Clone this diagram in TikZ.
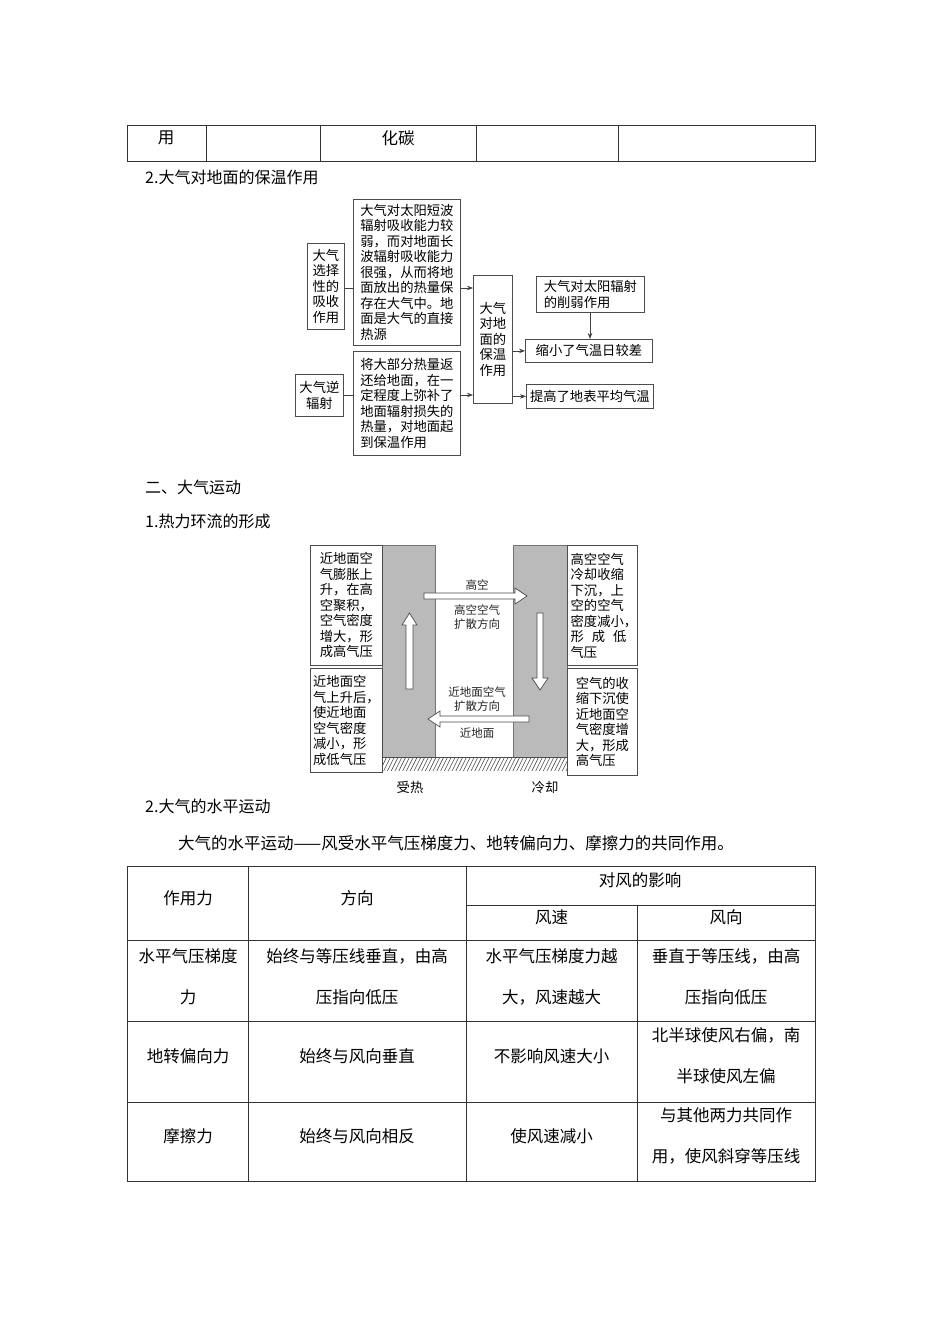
\documentclass[tikz,border=0pt]{standalone}
\usepackage{fontspec}
\setmainfont{Noto Sans CJK SC}
\usetikzlibrary{arrows.meta}
\begin{document}
\begin{tikzpicture}[x=1pt,y=-1pt,
  body/.style={inner sep=0pt, font=\fontsize{16}{20}\selectfont},
  cell/.style={inner sep=0pt, align=center, font=\fontsize{16.5}{41}\selectfont},
  grid/.style={draw=black!80, line width=0.9pt},
  fbox/.style={draw=black!70, line width=0.8pt, fill=white, inner sep=0pt, anchor=north west, font=\fontsize{13.3}{15.5}\selectfont},
  arr/.style={-{Stealth[length=6pt,width=4.5pt]}, line width=0.7pt, draw=black!75},
  conn/.style={line width=0.7pt, draw=black!75},
  small/.style={inner sep=0pt, font=\fontsize{11.5}{14}\selectfont, text=black!85},
  blockarrow/.style={draw=black!70, fill=white, line width=0.7pt},
  column/.style={fill=black!27, draw=black!55, line width=0.6pt}
]
\useasboundingbox[fill=white] (0,0) rectangle (950,1344);

% ---------- top table fragment ----------
\draw[grid] (127,125) rectangle (815,161);
\foreach \xx in {206,320,476,618} \draw[grid] (\xx,125) -- (\xx,161);
\node[cell] (t1) at (166,138) {用};
\node[cell] (t2) at (398,138) {化碳};

\node[body, anchor=west] (h1) at (145,177) {2.大气对地面的保温作用};

% ---------- flow chart ----------
\node[fbox, align=center, minimum width=37pt, minimum height=86pt] (A) at (307,243) {大气\\选择\\性的\\吸收\\作用};
\node[fbox, align=left, minimum width=107pt, minimum height=146pt] (B) at (353,199) {大气对太阳短波\\辐射吸收能力较\\弱，而对地面长\\波辐射吸收能力\\很强，从而将地\\面放出的热量保\\存在大气中。地\\面是大气的直接\\热源};
\node[fbox, align=center, minimum width=48pt, minimum height=42pt] (C) at (295,374) {大气逆\\辐射};
\node[fbox, align=left, minimum width=107pt, minimum height=104pt] (D) at (353,351) {将大部分热量返\\还给地面，在一\\定程度上弥补了\\地面辐射损失的\\热量，对地面起\\到保温作用};
\node[fbox, align=center, minimum width=39pt, minimum height=128pt] (E) at (473,275) {大气\\对地\\面的\\保温\\作用};
\node[fbox, align=left, minimum width=108pt, minimum height=36pt] (F) at (536,276) {大气对太阳辐射\\的削弱作用};
\node[fbox, align=center, minimum width=127pt, minimum height=23pt] (G) at (525,339) {缩小了气温日较差};
\node[fbox, align=center, minimum width=127pt, minimum height=24pt] (H) at (526,384) {提高了地表平均气温};

\coordinate (yA) at (0,288);
\coordinate (yC) at (0,395);
\draw[conn] (A.east |- yA) -- (B.west |- yA);
\draw[conn] (C.east |- yC) -- (D.west |- yC);
\draw[arr] (B.east |- yA) -- (E.west |- yA);
\draw[arr] (D.east |- yC) -- (E.west |- yC);
\draw[arr] (E.east |- G.west) -- (G.west);
\draw[arr] (E.east |- H.west) -- (H.west);
\draw[arr] (F.south -| 590,0) -- (G.north -| 590,0);

% ---------- section headings ----------
\node[body, anchor=west] (h2) at (145,487) {二、大气运动};
\node[body, anchor=west] (h3) at (145,521) {1.热力环流的形成};

% ---------- thermal circulation ----------
\fill[column] (382,545) rectangle (435,757);
\fill[column] (513,545) rectangle (567,757);
\draw[column] (382,545) rectangle (435,757);
\draw[column] (513,545) rectangle (567,757);

\begin{scope}
\clip (382,757) rectangle (567,771);
\foreach \i in {0,...,50} \draw[black!70, line width=0.6pt] ({376+\i*3.8},771) -- ({376+\i*3.8+7},757);
\end{scope}
\draw[black!70, line width=0.6pt] (382,757) -- (567,757);

\node[fbox, align=left, minimum width=72pt, minimum height=120pt] (LU) at (310,545) {近地面空\\气膨胀上\\升，在高\\空聚积，\\空气密度\\增大，形\\成高气压};
\node[fbox, align=left, minimum width=72pt, minimum height=104pt] (LL) at (310,668) {近地面空\\气上升后，\\使近地面\\空气密度\\减小，形\\成低气压};
\node[fbox, align=left, minimum width=70pt, minimum height=120pt] (RU) at (567,545) {\hspace*{3pt}高空空气\\\hspace*{3pt}冷却收缩\\\hspace*{3pt}下沉，上\\\hspace*{3pt}空的空气\\\hspace*{3pt}密度减小，\\\hspace*{3pt}形\hspace{8pt}成\hspace{8pt}低\\\hspace*{3pt}气压};
\node[fbox, align=left, minimum width=70pt, minimum height=107pt] (RL) at (567,668) {空气的收\\缩下沉使\\近地面空\\气密度增\\大，形成\\高气压};

% block arrows
\draw[blockarrow] (424,593) -- (515,593) -- (515,588) -- (527,596) -- (515,604) -- (515,599) -- (424,599) -- cycle;
\draw[blockarrow] (406,689) -- (406,625) -- (402,625) -- (409.5,613) -- (417,625) -- (413,625) -- (413,689) -- cycle;
\draw[blockarrow] (537,613) -- (543,613) -- (543,678) -- (548,678) -- (540,690) -- (532,678) -- (537,678) -- cycle;
\draw[blockarrow] (529,716) -- (440,716) -- (440,711) -- (428,719) -- (440,727) -- (440,722) -- (529,722) -- cycle;

\node[small] (l1) at (477,585) {高空};
\node[small, align=center, font=\fontsize{11.5}{14.5}\selectfont] (l2) at (477,617) {高空空气\\扩散方向};
\node[small, align=center, font=\fontsize{11.5}{14.5}\selectfont] (l3) at (477,699) {近地面空气\\扩散方向};
\node[small] (l4) at (477,733) {近地面};
\node[inner sep=0pt, font=\fontsize{13.3}{16}\selectfont] (l5) at (410,787) {受热};
\node[inner sep=0pt, font=\fontsize{13.3}{16}\selectfont] (l6) at (545,787) {冷却};

% ---------- horizontal motion ----------
\node[body, anchor=west] (h4) at (145,806) {2.大气的水平运动};
\node[body, anchor=west, font=\fontsize{16.5}{20}\selectfont] (p1) at (178,843) {大气的水平运动——风受水平气压梯度力、地转偏向力、摩擦力的共同作用。};

\draw[grid] (127,866) rectangle (815,1181);
\draw[grid] (248,866) -- (248,1181);
\draw[grid] (466,866) -- (466,1181);
\draw[grid] (637,905) -- (637,1181);
\draw[grid] (466,905) -- (815,905);
\foreach \yy in {940,1021,1102} \draw[grid] (127,\yy) -- (815,\yy);

\node[cell] (c01) at (188,898) {作用力};
\node[cell] (c02) at (357,898) {方向};
\node[cell] (c03) at (640,880) {对风的影响};
\node[cell] (c04) at (551.5,917) {风速};
\node[cell] (c05) at (726,917) {风向};

\node[cell] (c11) at (188,977) {水平气压梯度\\力};
\node[cell] (c12) at (357,977) {始终与等压线垂直，由高\\压指向低压};
\node[cell] (c13) at (551.5,977) {水平气压梯度力越\\大，风速越大};
\node[cell] (c14) at (726,977) {垂直于等压线，由高\\压指向低压};

\node[cell] (c21) at (188,1056) {地转偏向力};
\node[cell] (c22) at (357,1056) {始终与风向垂直};
\node[cell] (c23) at (551.5,1056) {不影响风速大小};
\node[cell] (c24) at (726,1056) {北半球使风右偏，南\\半球使风左偏};

\node[cell] (c31) at (188,1136) {摩擦力};
\node[cell] (c32) at (357,1136) {始终与风向相反};
\node[cell] (c33) at (551.5,1136) {使风速减小};
\node[cell] (c34) at (726,1136) {与其他两力共同作\\用，使风斜穿等压线};
\end{tikzpicture}
\end{document}
